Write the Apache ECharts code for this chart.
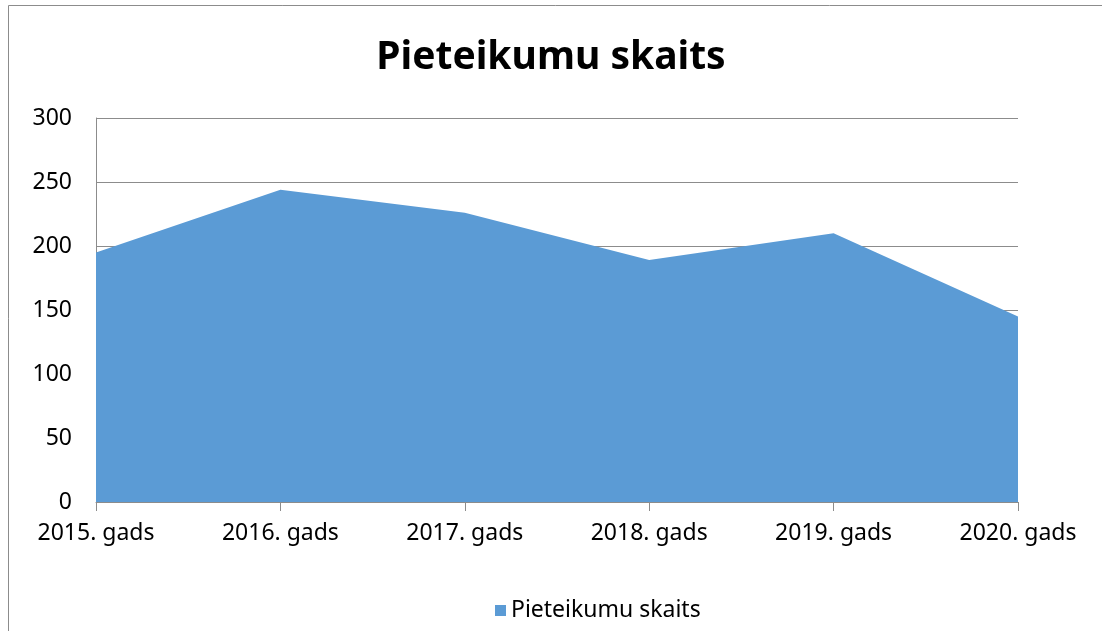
<!DOCTYPE html>
<html>
<head>
<meta charset="utf-8">
<title>Pieteikumu skaits</title>
<script src="https://cdn.jsdelivr.net/npm/echarts@6/dist/echarts.min.js"></script>
<style>
  html, body { margin: 0; padding: 0; background: #fff; }
  #chart { width: 1102px; height: 631px; }
</style>
</head>
<body>
<div id="chart"></div>
<script>
// data
const categories = ['2015. gads', '2016. gads', '2017. gads', '2018. gads', '2019. gads', '2020. gads']
const applications = [195, 244, 226, 189, 210, 145]
const seriesName = 'Pieteikumu skaits'

const font = '"Noto Sans", "Open Sans", sans-serif'
const gridColor = '#8c8c8c'

const chart = echarts.init(document.getElementById('chart'))
chart.setOption({
  animation: false,
  textStyle: { fontFamily: font },
  title: {
    text: seriesName,
    left: 'center',
    top: 33,
    textStyle: { fontSize: 39, fontWeight: 'bold', color: '#000', fontFamily: font }
  },
  graphic: [{
    type: 'rect',
    shape: { x: 8.5, y: 5.5, width: 1300, height: 900 },
    style: { fill: 'none', stroke: '#8c8c8c', lineWidth: 1 },
    silent: true
  }],
  legend: {
    bottom: 4,
    left: 490,
    itemWidth: 11,
    itemHeight: 11,
    itemGap: 8,
    icon: 'rect',
    textStyle: { fontSize: 23, color: '#000', fontFamily: font },
    data: [seriesName]
  },
  grid: { left: 96, right: 84, top: 118, bottom: 129 },
  xAxis: {
    type: 'category',
    data: categories,
    boundaryGap: false,
    axisLine: { lineStyle: { color: gridColor } },
    axisTick: { show: true, length: 9, lineStyle: { color: gridColor } },
    axisLabel: { color: '#000', fontSize: 23, margin: 20, fontFamily: font }
  },
  yAxis: {
    type: 'value',
    min: 0,
    max: 300,
    interval: 50,
    axisLine: { show: true, lineStyle: { color: gridColor } },
    axisTick: { show: false },
    axisLabel: { color: '#000', fontSize: 23, margin: 24, fontFamily: font },
    splitLine: { lineStyle: { color: gridColor } }
  },
  series: [{
    name: seriesName,
    type: 'line',
    data: applications,
    symbol: 'none',
    lineStyle: { width: 0 },
    itemStyle: { color: '#5b9bd5' },
    areaStyle: { color: '#5b9bd5', opacity: 1 }
  }]
})
</script>
</body>
</html>
